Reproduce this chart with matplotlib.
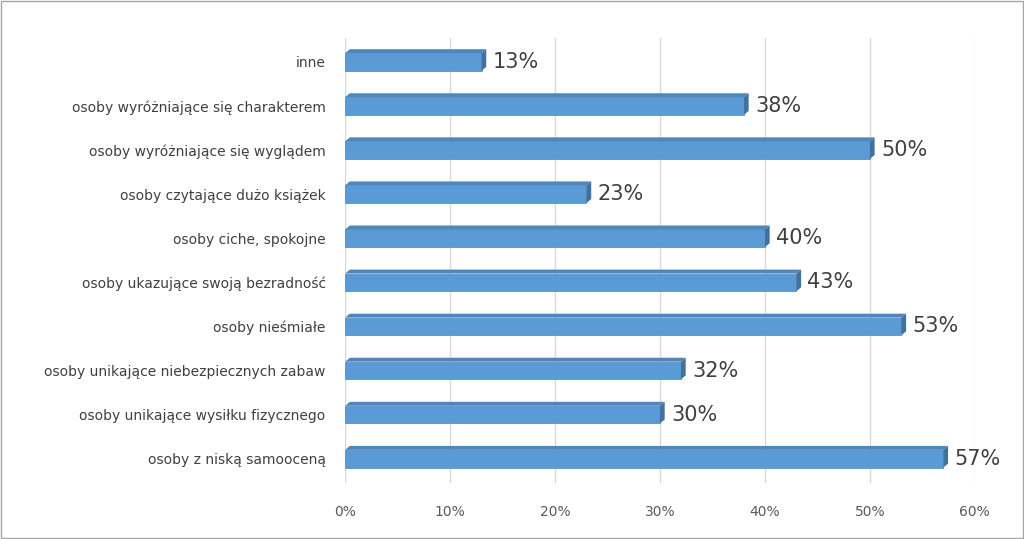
import matplotlib
matplotlib.use("Agg")
import matplotlib.pyplot as plt
from matplotlib.patches import Polygon

categories = ["inne", "osoby wyróżniające się charakterem", "osoby wyróżniające się wyglądem",
              "osoby czytające dużo książek", "osoby ciche, spokojne",
              "osoby ukazujące swoją bezradność", "osoby nieśmiałe",
              "osoby unikające niebezpiecznych zabaw", "osoby unikające wysiłku fizycznego",
              "osoby z niską samooceną"]
values = [13, 38, 50, 23, 40, 43, 53, 32, 30, 57]
ticks = [0, 10, 20, 30, 40, 50, 60]
tick_labels = ["0%", "10%", "20%", "30%", "40%", "50%", "60%"]

fig = plt.figure(figsize=(10.24, 5.39), dpi=100)
fig.patch.set_facecolor("white")
ax = fig.add_axes([0.337, 0.104, 0.615, 0.826])
n = len(categories)
ys = list(range(n - 1, -1, -1))
h = 0.4
dx, dy = 0.45, 0.09
front = "#5B9BD5"
dark = "#41719C"
for y, v in zip(ys, values):
    ax.barh(y, v, height=h, color=front, edgecolor="#4A86C0", linewidth=0.5, zorder=3)
    top = [(0, y + h/2), (v, y + h/2), (v + dx, y + h/2 + dy), (dx, y + h/2 + dy)]
    side = [(v, y - h/2), (v + dx, y - h/2 + dy), (v + dx, y + h/2 + dy), (v, y + h/2)]
    ax.add_patch(Polygon(top, closed=True, facecolor="#4F87BA", edgecolor="none", zorder=3))
    ax.add_patch(Polygon(side, closed=True, facecolor=dark, edgecolor="none", zorder=3))
    ax.text(v + dx + 0.6, y, f"{v}%", va="center", ha="left", fontsize=15, color="#404040", zorder=4)

ax.set_xlim(0, 60)
ax.set_ylim(-0.55, n - 0.45)
ax.set_xticks(ticks)
ax.set_xticklabels(tick_labels, fontsize=10, color="#595959")
ax.set_yticks(ys)
ax.set_yticklabels(categories, fontsize=10, color="#404040")
ax.tick_params(length=0, pad=14)
ax.tick_params(axis="x", pad=16)
ax.grid(axis="x", color="#D9D9D9", linewidth=1, zorder=0)
for s in ax.spines.values():
    s.set_visible(False)
fig.add_artist(plt.Rectangle((0.001, 0.001), 0.998, 0.997, transform=fig.transFigure,
                             fill=False, edgecolor="#A6A6A6", linewidth=1))
fig.savefig("out.png", dpi=100)
